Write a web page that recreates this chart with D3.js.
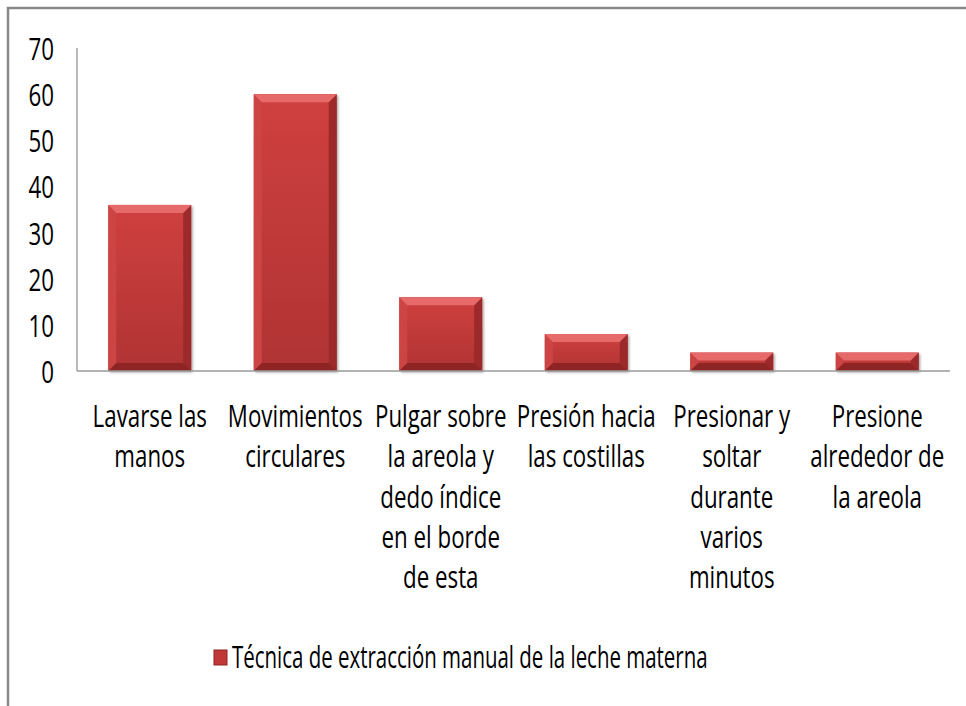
<!DOCTYPE html>
<html>
<head>
<meta charset="utf-8">
<script src="https://cdn.jsdelivr.net/npm/d3@7"></script>
<style>
  body { margin: 0; background: #fff; }
  text { font-family: "Open Sans", sans-serif; fill: #000; }
</style>
</head>
<body>
<div id="chart"></div>
<script>
// chart data
const CATEGORIES = [
  ["Lavarse las", "manos"],
  ["Movimientos", "circulares"],
  ["Pulgar sobre", "la areola y", "dedo índice", "en el borde", "de esta"],
  ["Presión hacia", "las costillas"],
  ["Presionar y", "soltar", "durante", "varios", "minutos"],
  ["Presione", "alrededor de", "la areola"]
];
const VALUES = [36, 60, 16, 8, 4, 4];
const Y_TICKS = [0, 10, 20, 30, 40, 50, 60, 70];
const SERIES_NAME = "Técnica de extracción manual de la leche materna";

// frame
const FRAME_WIDTH = 966;
const FRAME_HEIGHT = 706;
const PLOT = {left: 77, right: 950, top: 48, bottom: 371};
const FONT_SIZE = 31;
const SX = 0.72; // narrow text like the original
const SX_LEGEND = 0.66;

const svg = d3.select("#chart")
  .append("svg")
  .attr("width", FRAME_WIDTH)
  .attr("height", FRAME_HEIGHT);

// gradient for bar faces
const defs = svg.append("defs");
const grad = defs.append("linearGradient")
  .attr("id", "barGrad")
  .attr("x1", 0).attr("y1", 0).attr("x2", 0).attr("y2", 1);
grad.append("stop").attr("offset", "0%").attr("stop-color", "#d04040");
grad.append("stop").attr("offset", "100%").attr("stop-color", "#b03333");

const shadow = defs.append("filter").attr("id", "shadow")
  .attr("x", "-10%").attr("y", "-10%").attr("width", "130%").attr("height", "130%");
shadow.append("feDropShadow")
  .attr("dx", 1.5).attr("dy", 1.5).attr("stdDeviation", 1.2)
  .attr("flood-color", "#000").attr("flood-opacity", 0.35);

// outer border (cropped on right/bottom)
svg.append("rect")
  .attr("x", 8).attr("y", 8)
  .attr("width", 1200).attr("height", 1200)
  .attr("fill", "none")
  .attr("stroke", "#878787")
  .attr("stroke-width", 2.5);

// scales
const x = d3.scaleBand()
  .domain(d3.range(CATEGORIES.length))
  .range([PLOT.left, PLOT.right])
  .paddingInner(0.43)
  .paddingOuter(0.215);

const y = d3.scaleLinear()
  .domain([0, 70])
  .range([PLOT.bottom, PLOT.top]);

// y axis line
svg.append("line")
  .attr("x1", PLOT.left).attr("x2", PLOT.left)
  .attr("y1", y(70)).attr("y2", y(0))
  .attr("stroke", "#8c8c8c").attr("stroke-width", 1.2);

// y tick labels
svg.selectAll(".ytick")
  .data(Y_TICKS)
  .enter()
  .append("text")
  .attr("class", "ytick")
  .attr("transform", (d) => "translate(54," + y(d) + ") scale(" + SX + ",1)")
  .attr("text-anchor", "end")
  .attr("dominant-baseline", "central")
  .attr("font-size", FONT_SIZE)
  .text((d) => d);

// bars with bevel
const bw = x.bandwidth();
const B = 8; // bevel size
const bars = svg.selectAll(".bar")
  .data(VALUES)
  .enter()
  .append("g")
  .attr("class", "bar");

bars.append("rect")
  .attr("x", (d, i) => x(i))
  .attr("y", (d) => y(d))
  .attr("width", bw)
  .attr("height", (d) => y(0) - y(d))
  .attr("fill", "url(#barGrad)")
  .attr("filter", "url(#shadow)");

function bevel(d, i, side) {
  const x0 = x(i), x1 = x(i) + bw, y0 = y(d), y1 = y(0);
  const b = Math.min(B, (y1 - y0) / 2);
  const pts = {
    top: [[x0, y0], [x1, y0], [x1 - b, y0 + b], [x0 + b, y0 + b]],
    bottom: [[x0, y1], [x1, y1], [x1 - b, y1 - b], [x0 + b, y1 - b]],
    left: [[x0, y0], [x0 + b, y0 + b], [x0 + b, y1 - b], [x0, y1]],
    right: [[x1, y0], [x1 - b, y0 + b], [x1 - b, y1 - b], [x1, y1]]
  }[side];
  return pts.map((p) => p.join(",")).join(" ");
}

const BEVEL_FILL = {top: "#e66a6a", left: "#cc4444", right: "#9c2a2a", bottom: "#8e2424"};
["left", "right", "bottom", "top"].forEach((side) => {
  bars.append("polygon")
    .attr("points", (d, i) => bevel(d, i, side))
    .attr("fill", BEVEL_FILL[side]);
});

// x baseline
svg.append("line")
  .attr("x1", PLOT.left).attr("x2", PLOT.right)
  .attr("y1", y(0)).attr("y2", y(0))
  .attr("stroke", "#9a9a9a").attr("stroke-width", 1.5);

// category labels
const LINE_H = 40.3;
const labels = svg.selectAll(".xlabel")
  .data(CATEGORIES)
  .enter()
  .append("g")
  .attr("class", "xlabel");

labels.each(function (lines, i) {
  d3.select(this).selectAll("text")
    .data(lines)
    .enter()
    .append("text")
    .attr("transform", (l, j) => "translate(" + (x(i) + bw / 2) + "," + (427 + j * LINE_H) + ") scale(" + SX + ",1)")
    .attr("text-anchor", "middle")
    .attr("font-size", FONT_SIZE)
    .text((l) => l);
});

// legend
const legend = svg.append("g");
legend.append("rect")
  .attr("x", 214).attr("y", 650)
  .attr("width", 13).attr("height", 15)
  .attr("fill", "#c03838")
  .attr("stroke", "#8e2424").attr("stroke-width", 1);
legend.append("text")
  .attr("transform", "translate(232,668) scale(" + SX_LEGEND + ",1)")
  .attr("font-size", FONT_SIZE)
  .text(SERIES_NAME);
</script>
</body>
</html>
